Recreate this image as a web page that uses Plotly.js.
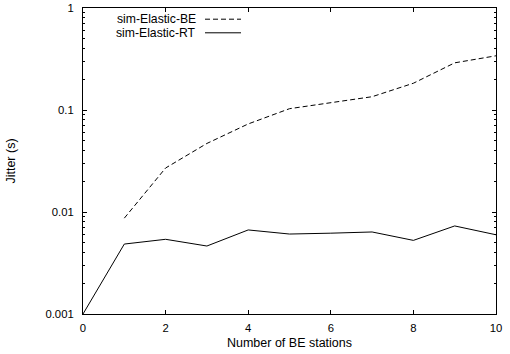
<!DOCTYPE html>
<html>
<head>
<meta charset="utf-8">
<script src="https://cdn.plot.ly/plotly-3.0.1.min.js"></script>
<style>html,body{margin:0;padding:0;background:#fff;}#plot{width:510px;height:354px;}</style>
</head>
<body>
<div id="plot"></div>
<script>
const stations = [0, 1, 2, 3, 4, 5, 6, 7, 8, 9, 10];
const beStations = [1, 2, 3, 4, 5, 6, 7, 8, 9, 10];
const jitterBE = [0.0087, 0.027, 0.047, 0.073, 0.103, 0.117, 0.135, 0.183, 0.29, 0.34];
const jitterRT = [0.001, 0.00485, 0.0054, 0.00464, 0.00667, 0.00608, 0.0062, 0.00637, 0.00527, 0.0073, 0.00598];
const seriesNames = ['sim-Elastic-BE', 'sim-Elastic-RT'];
const yTickVals = [0.001, 0.01, 0.1, 1];
const yTickText = ['0.001', '0.01', '0.1', '1'];
const xTickVals = [0, 2, 4, 6, 8, 10];

const tickFont = {family: 'Liberation Sans, Arial, sans-serif', size: 11.3, color: '#000'};
const textFont = {family: 'Liberation Sans, Arial, sans-serif', size: 12.5, color: '#000'};
const legendFont = {family: 'Liberation Sans, Arial, sans-serif', size: 12.2, color: '#000'};

const traces = [
  {x: beStations, y: jitterBE, name: seriesNames[0], mode: 'lines',
   line: {color: '#000', width: 1, dash: '5px,3px'}},
  {x: stations, y: jitterRT, name: seriesNames[1], mode: 'lines',
   line: {color: '#000', width: 1}}
];

const legY0 = (314 - 19.2) / 306, legY1 = (314 - 32.8) / 306;
const legTextX = (197 - 83) / 413, legLineX0 = (205 - 83) / 413, legLineX1 = (241 - 83) / 413;

const layout = {
  width: 510, height: 354,
  margin: {l: 83, r: 14, t: 8, b: 40, pad: 0},
  paper_bgcolor: '#fff', plot_bgcolor: '#fff',
  font: textFont,
  showlegend: false,
  xaxis: {
    range: [0, 10], tickvals: xTickVals, ticks: 'inside', ticklen: 4,
    tickcolor: '#000', showline: true, linecolor: '#000', linewidth: 1,
    mirror: 'allticks', showgrid: false, zeroline: false,
    tickfont: tickFont, ticklabelstandoff: 3,
    title: {text: 'Number of BE stations', font: textFont, standoff: 5}
  },
  yaxis: {
    type: 'log', range: [-3, 0], tickvals: yTickVals, ticktext: yTickText,
    ticks: 'inside', ticklen: 4, tickcolor: '#000',
    showline: true, linecolor: '#000', linewidth: 1, mirror: 'allticks',
    showgrid: false, zeroline: false, tickfont: tickFont, ticklabelstandoff: 6,
    minor: {ticks: 'inside', ticklen: 2, tickcolor: '#000', dtick: 'D1', showgrid: false},
    title: {text: 'Jitter (s)', font: textFont, standoff: 27}
  },
  annotations: [
    {xref: 'paper', yref: 'paper', x: legTextX, y: legY0, borderpad: 0,
     xanchor: 'right', yanchor: 'middle', text: seriesNames[0], showarrow: false, font: legendFont},
    {xref: 'paper', yref: 'paper', x: legTextX, y: legY1, borderpad: 0,
     xanchor: 'right', yanchor: 'middle', text: seriesNames[1], showarrow: false, font: legendFont}
  ],
  shapes: [
    {type: 'line', xref: 'paper', yref: 'paper', x0: legLineX0, x1: legLineX1,
     y0: legY0, y1: legY0, line: {color: '#000', width: 1, dash: '5px,3px'}},
    {type: 'line', xref: 'paper', yref: 'paper', x0: legLineX0, x1: legLineX1,
     y0: legY1, y1: legY1, line: {color: '#000', width: 1}}
  ]
};

Plotly.newPlot('plot', traces, layout, {displayModeBar: false, staticPlot: true});
</script>
</body>
</html>
